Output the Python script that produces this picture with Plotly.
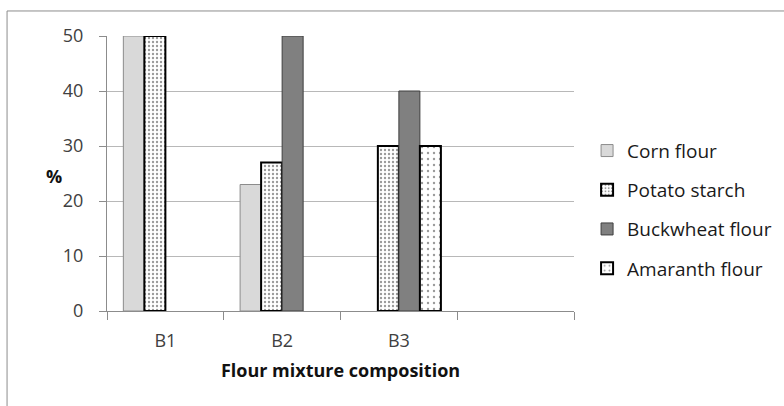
import plotly.graph_objects as go

# Flour mixture composition (%) by blend
categories = ["B1", "B2", "B3"]
corn_flour = [50, 23, 0]
potato_starch = [50, 27, 30]
buckwheat_flour = [0, 50, 40]
amaranth_flour = [0, 0, 30]
y_ticks = [0, 10, 20, 30, 40, 50]

FONT = "Open Sans"
x_pos = list(range(len(categories)))

series = [
    ("Corn flour", corn_flour,
     dict(color="#d9d9d9", line=dict(color="#8c8c8c", width=1))),
    ("Potato starch", potato_starch,
     dict(color="white", line=dict(color="black", width=2),
          pattern=dict(shape=".", fgcolor="#333333", bgcolor="white", size=4, solidity=0.28))),
    ("Buckwheat flour", buckwheat_flour,
     dict(color="#808080", line=dict(color="#3f3f3f", width=1))),
    ("Amaranth flour", amaranth_flour,
     dict(color="white", line=dict(color="black", width=2),
          pattern=dict(shape=".", fgcolor="#333333", bgcolor="white", size=6, solidity=0.12))),
]

fig = go.Figure()
for name, vals, marker in series:
    # absent components (0 %) are left out so no flat outline is drawn on the axis
    fig.add_trace(go.Bar(x=x_pos, y=[v if v else None for v in vals], name=name,
                         marker=marker, legendgroup=name))

axis_col = "#8c8c8c"
grid_col = "#b8b8b8"

fig.update_layout(
    width=784, height=406,
    margin=dict(l=107, r=210, t=36, b=95, autoexpand=False),
    paper_bgcolor="white", plot_bgcolor="white",
    barmode="group", bargap=0.28, bargroupgap=0,
    font=dict(family=FONT, size=18, color="#404040"),
    showlegend=True,
    legend=dict(x=1.028, y=0.652, xanchor="left", yanchor="top",
                font=dict(family=FONT, size=19, color="#1a1a1a"),
                tracegroupgap=11.5, itemwidth=30, bgcolor="rgba(0,0,0,0)"),
    xaxis=dict(
        range=[-0.5, len(categories) + 0.5],
        tickmode="array", tickvals=x_pos, ticktext=categories,
        ticks="", showgrid=False, zeroline=False,
        showline=True, linecolor=axis_col, linewidth=1,
        ticklabelstandoff=13,
        minor=dict(tickmode="array",
                   tickvals=[i - 0.5 for i in range(len(categories) + 2)],
                   ticks="outside", ticklen=8, tickcolor=axis_col, tickwidth=1,
                   showgrid=False),
        title=dict(text="<b>Flour mixture composition</b>",
                   font=dict(family=FONT, size=18, color="#111111"),
                   standoff=13),
    ),
    yaxis=dict(
        range=[0, 50], tickmode="array", tickvals=y_ticks,
        ticks="outside", ticklen=7, tickcolor=axis_col, tickwidth=1,
        showgrid=True, gridcolor=grid_col, gridwidth=1,
        zeroline=False, showline=True, linecolor=axis_col, linewidth=1,
        ticklabelstandoff=12,
    ),
    annotations=[dict(text="<b>%</b>", x=-0.135, y=0.49, xref="paper", yref="paper",
                      showarrow=False, font=dict(family=FONT, size=18, color="#111111"))],
    shapes=[dict(type="rect", xref="paper", yref="paper",
                 x0=-0.214, x1=1.47, y0=-0.37, y1=1.091,
                 line=dict(color="#8c8c8c", width=1), layer="below")],
)

fig.write_html("out.html")
